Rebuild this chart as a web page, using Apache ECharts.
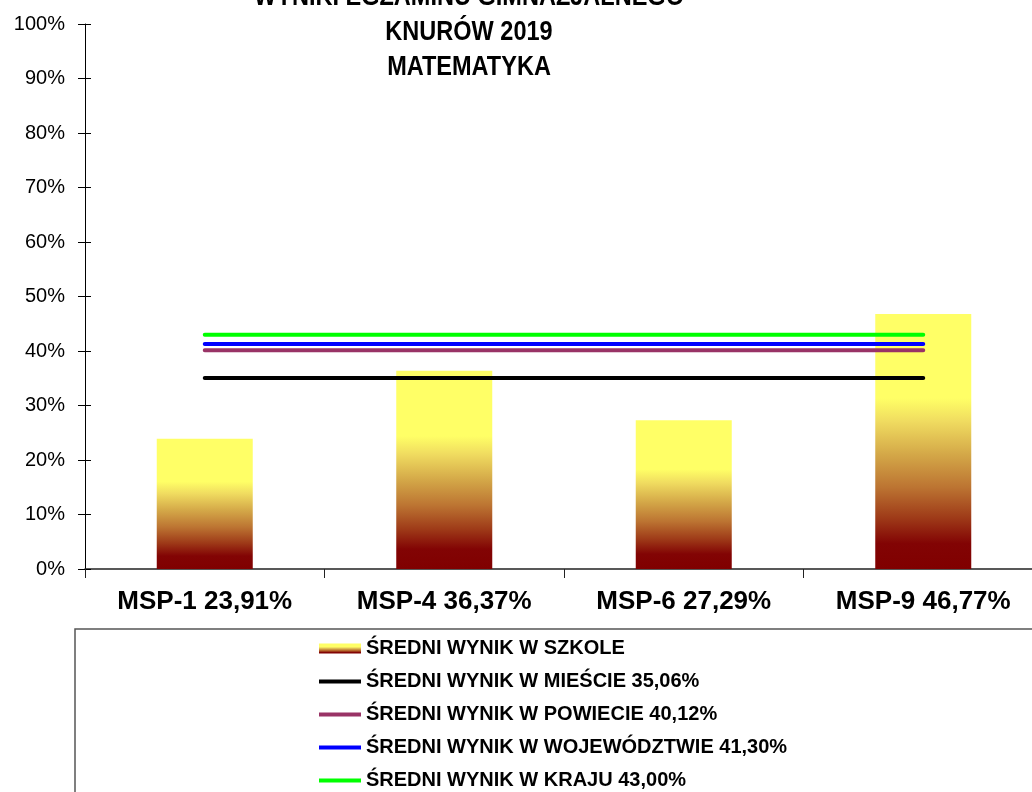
<!DOCTYPE html>
<html>
<head>
<meta charset="utf-8">
<script src="https://cdn.jsdelivr.net/npm/echarts@6/dist/echarts.min.js"></script>
<style>
  html, body { margin: 0; padding: 0; background: #fff; overflow: hidden; }
  /* wykres jest szerszy niż okno - prawa część osi jest ucięta jak w oryginale */
  #chart { width: 1043px; height: 792px; }
</style>
</head>
<body>
<div id="chart"></div>
<script>
// kategorie (szkoły) i wyniki
const categories = ['MSP-1 23,91%', 'MSP-4 36,37%', 'MSP-6 27,29%', 'MSP-9 46,77%'];
const schoolValues = [23.91, 36.37, 27.29, 46.77];
// średnie wyniki - linie
const avgNames = [
  'ŚREDNI WYNIK W MIEŚCIE 35,06%',
  'ŚREDNI WYNIK W POWIECIE 40,12%',
  'ŚREDNI WYNIK W WOJEWÓDZTWIE 41,30%',
  'ŚREDNI WYNIK W KRAJU 43,00%'
];
const avgValues = [35.06, 40.12, 41.30, 43.00];
const avgColors = ['#000000', '#993366', '#0000ff', '#00ff00'];
const yTicks = [0, 10, 20, 30, 40, 50, 60, 70, 80, 90, 100];

const chart = echarts.init(document.getElementById('chart'), null, { renderer: 'canvas' });

// gradient słupka: żółty u góry, bordowy na dole
const barGradient = new echarts.graphic.LinearGradient(0, 0, 0, 1, [
  { offset: 0, color: '#ffff66' },
  { offset: 0.33, color: '#ffff66' },
  { offset: 0.42, color: '#f0dc60' },
  { offset: 0.55, color: '#d4a848' },
  { offset: 0.68, color: '#bc7432' },
  { offset: 0.80, color: '#9e3a18' },
  { offset: 0.90, color: '#820404' },
  { offset: 1, color: '#800000' }
]);

const lineIcon = 'path://M0,0L42,0L42,4L0,4Z';

const series = [{
  name: 'ŚREDNI WYNIK W SZKOLE',
  type: 'bar',
  data: schoolValues,
  barWidth: 96,
  itemStyle: { color: barGradient },
  z: 2
}];
avgNames.forEach((name, i) => {
  series.push({
    name: name,
    type: 'line',
    data: categories.map(() => avgValues[i]),
    showSymbol: false,
    lineStyle: { color: avgColors[i], width: 4, cap: 'round' },
    itemStyle: { color: avgColors[i] },
    z: 3
  });
});

const option = {
  animation: false,
  textStyle: { fontFamily: 'Liberation Sans, Arial, sans-serif' },
  grid: { left: 85, right: 0, top: 24, bottom: 223, containLabel: false },
  graphic: [
    {
      type: 'text',
      x: 469,
      y: -20,
      scaleX: 0.84,
      style: {
        text: 'WYNIKI EGZAMINU GIMNAZJALNEGO\nKNURÓW 2019\nMATEMATYKA',
        font: 'bold 28px "Liberation Sans", Arial, sans-serif',
        lineHeight: 35,
        align: 'center',
        verticalAlign: 'top',
        fill: '#000'
      }
    },
    {
      type: 'rect',
      shape: { x: 75, y: 629, width: 1000, height: 220 },
      style: { fill: 'none', stroke: '#555', lineWidth: 1.5 },
      z: -1
    }
  ],
  legend: {
    orient: 'vertical',
    left: 319,
    top: 638.5,
    height: 300,
    padding: 0,
    itemWidth: 42,
    itemHeight: 10,
    itemGap: 13,
    textStyle: { fontSize: 20, fontWeight: 'bold', color: '#000', fontFamily: 'Liberation Sans, Arial, sans-serif' },
    data: [
      { name: 'ŚREDNI WYNIK W SZKOLE', icon: 'rect' }
    ].concat(avgNames.map(n => ({ name: n, icon: lineIcon })))
  },
  xAxis: {
    type: 'category',
    data: categories,
    boundaryGap: true,
    axisLine: { lineStyle: { color: '#222', width: 1.5 } },
    axisTick: { show: true, inside: false, length: 9, alignWithLabel: false, lineStyle: { color: '#222' } },
    axisLabel: { fontSize: 26, fontWeight: 'bold', color: '#000', margin: 20, interval: 0 }
  },
  yAxis: [
    {
      type: 'value',
      min: yTicks[0],
      max: yTicks[yTicks.length - 1],
      interval: 10,
      axisLine: { show: true, lineStyle: { color: '#000', width: 1 } },
      axisTick: { show: true, inside: false, length: 7, lineStyle: { color: '#000' } },
      axisLabel: { fontSize: 20, color: '#000', margin: 20, formatter: '{value}%' },
      splitLine: { show: false }
    },
    {
      type: 'value',
      position: 'left',
      min: yTicks[0],
      max: yTicks[yTicks.length - 1],
      interval: 10,
      axisLine: { show: false },
      axisTick: { show: true, inside: true, length: 6, lineStyle: { color: '#000' } },
      axisLabel: { show: false },
      splitLine: { show: false }
    }
  ],
  series: series
};

chart.setOption(option);
</script>
</body>
</html>
